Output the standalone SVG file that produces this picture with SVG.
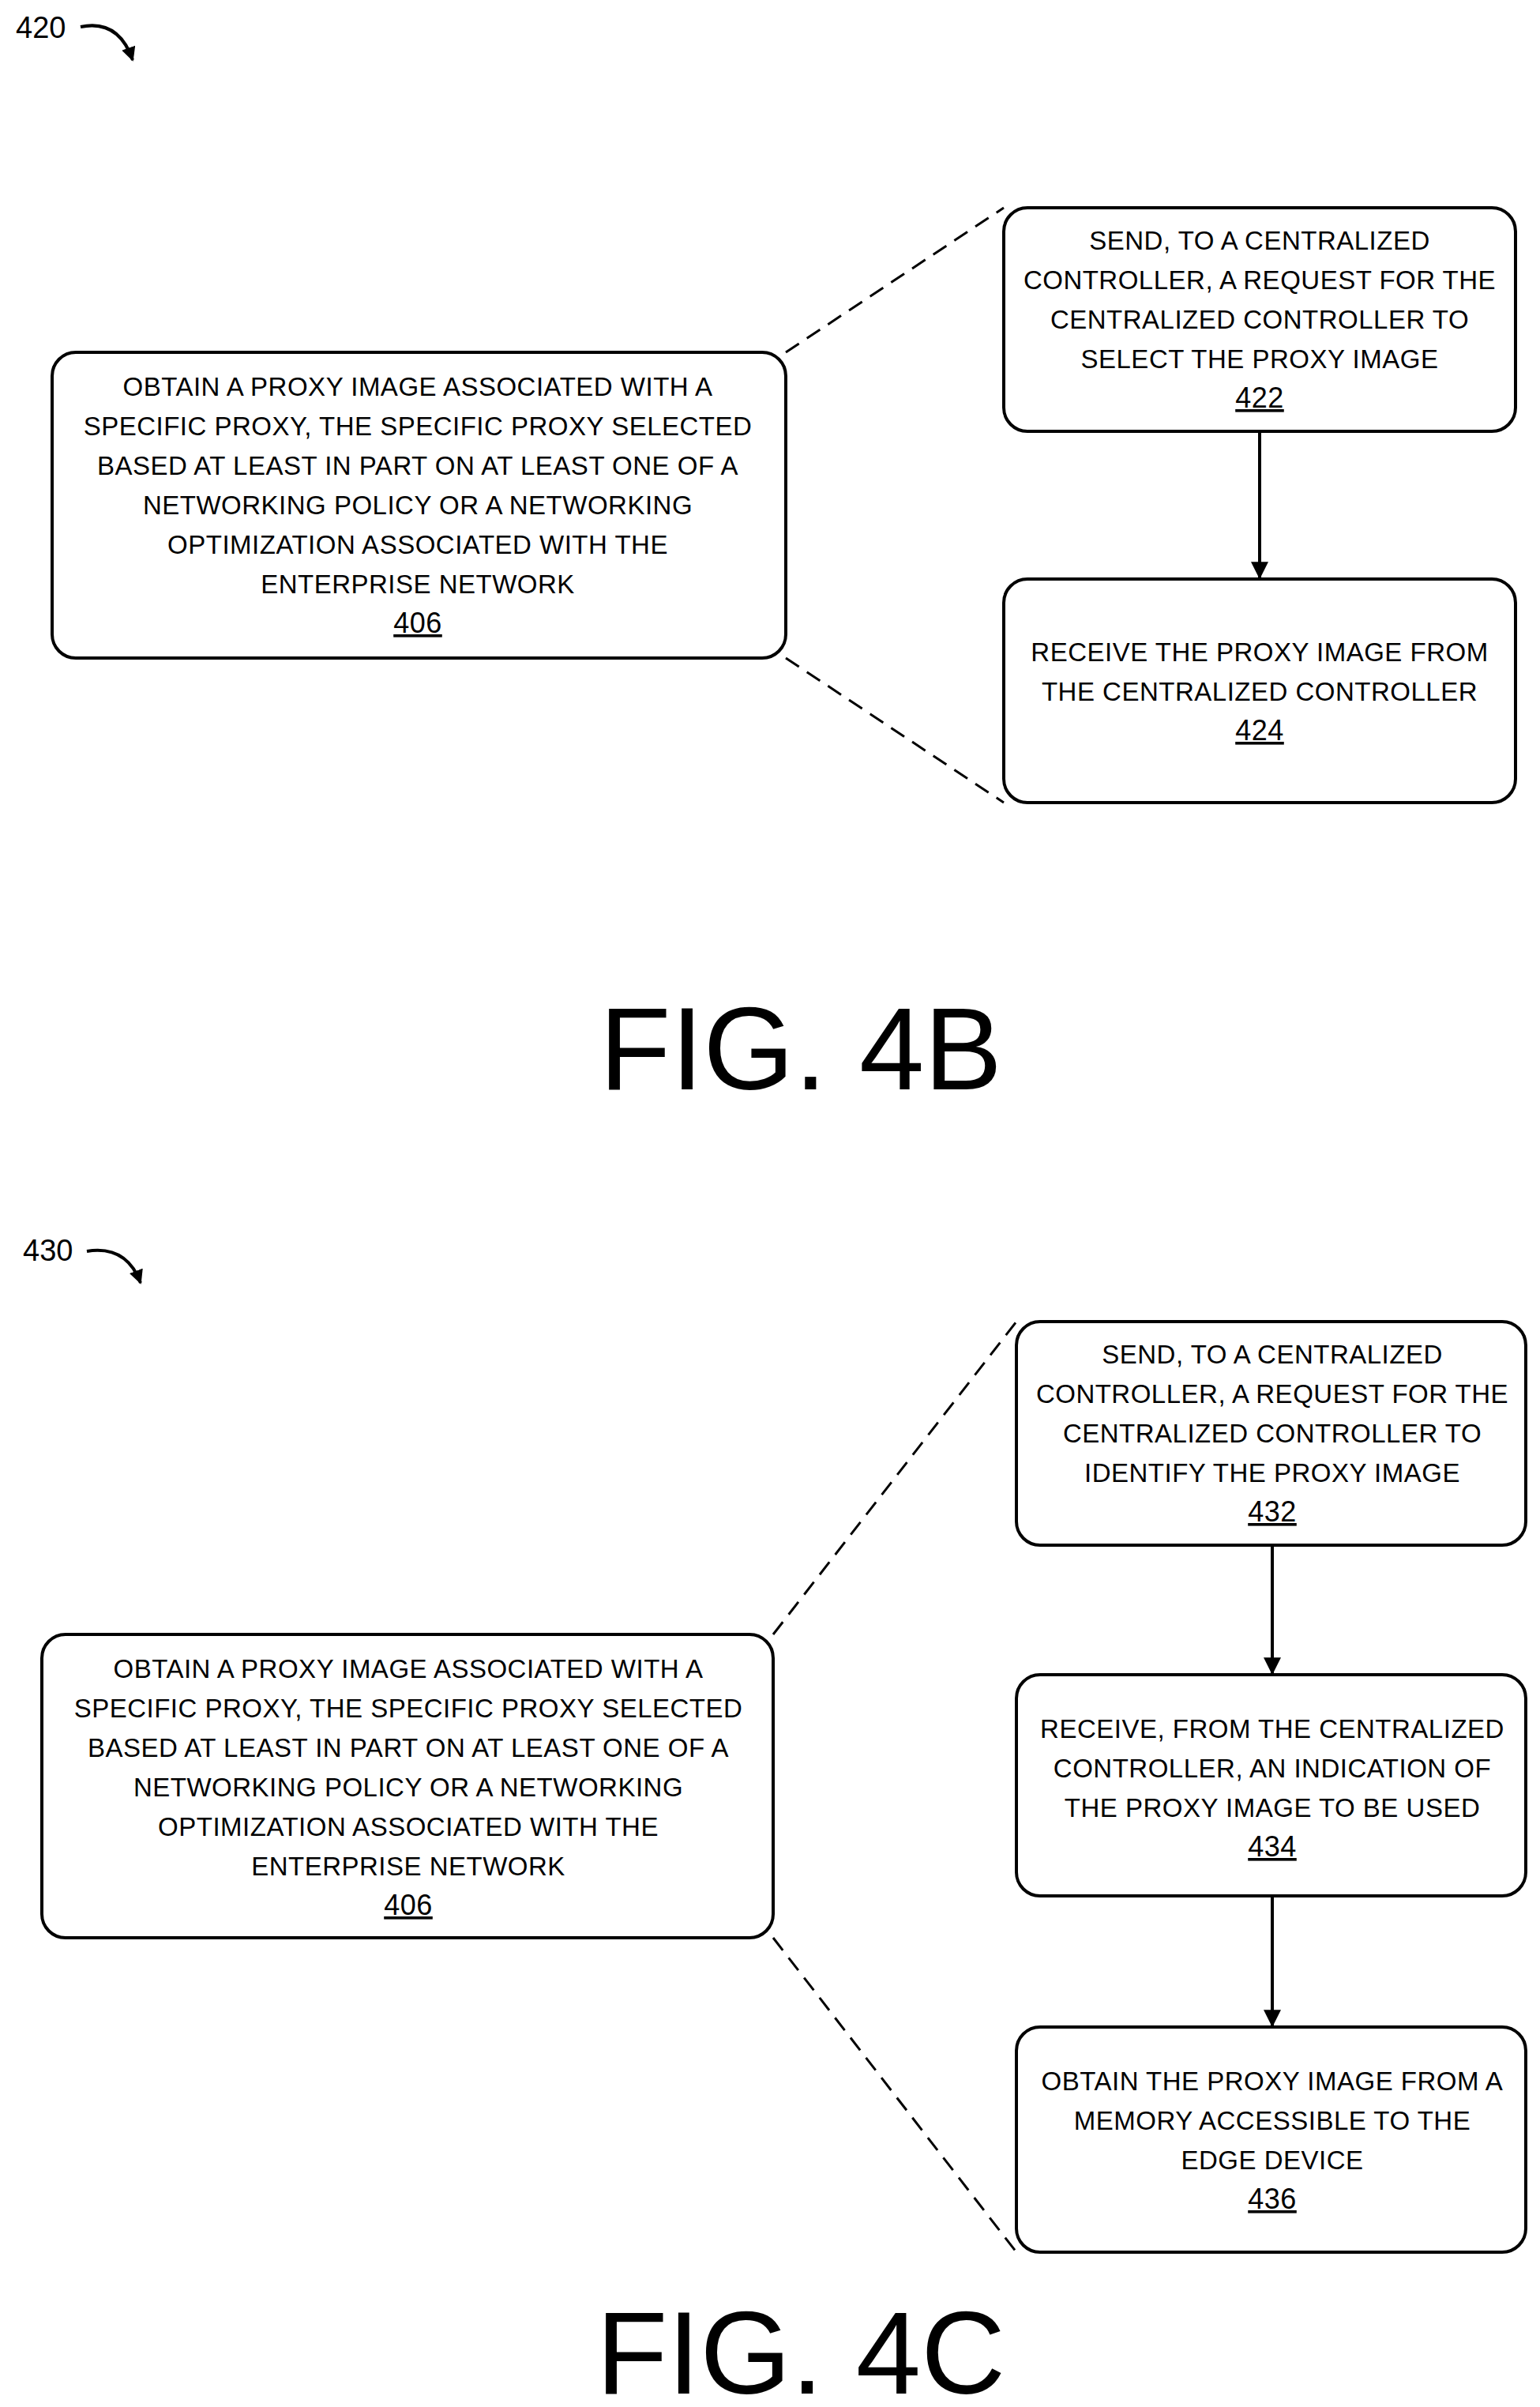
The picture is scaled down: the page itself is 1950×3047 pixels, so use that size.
<svg xmlns="http://www.w3.org/2000/svg" width="1950" height="3047" viewBox="0 0 1950 3047">
<style>
.b{fill:#fff;stroke:#000;stroke-width:4}
.t{font-family:"Liberation Sans",Arial,sans-serif;font-size:33px;text-anchor:middle;letter-spacing:0.5px}
.u{text-decoration:underline;font-size:36px}
.d{stroke:#000;stroke-width:3;stroke-dasharray:20,12;fill:none}
.a{stroke:#000;stroke-width:4;fill:none}
.f{font-family:"Liberation Sans",Arial,sans-serif;font-size:148px;text-anchor:middle}
.l{font-family:"Liberation Sans",Arial,sans-serif;font-size:38px}
</style>
<defs>
<marker id="h" viewBox="0 0 10 10" refX="9" refY="5" markerWidth="22" markerHeight="24" orient="auto" markerUnits="userSpaceOnUse"><path d="M0,0L10,5L0,10z"/></marker>
<marker id="s" viewBox="0 0 10 10" refX="9" refY="5" markerWidth="18" markerHeight="18" orient="auto" markerUnits="userSpaceOnUse"><path d="M0,0L10,5L0,10z"/></marker></defs>
<text class="l" x="20" y="48">420</text>
<text class="l" x="29" y="1596">430</text>
<g id="connectors">
<path class="a" d="M102,34 Q150,24 168,76" marker-end="url(#s)"/>
<path class="a" d="M110,1584 Q160,1576 178,1624" marker-end="url(#s)"/>
<line class="d" x1="995" y1="446" x2="1271" y2="263"/>
<line class="d" x1="995" y1="833" x2="1271" y2="1016"/>
<line class="d" x1="979" y1="2069" x2="1287" y2="1673"/>
<line class="d" x1="979" y1="2453" x2="1287" y2="2851"/>
<line class="a" x1="1595" y1="546" x2="1595" y2="731" marker-end="url(#h)"/>
<line class="a" x1="1611" y1="1956" x2="1611" y2="2118" marker-end="url(#h)"/>
<line class="a" x1="1611" y1="2400" x2="1611" y2="2564" marker-end="url(#h)"/>
</g>
<g id="n406b"><rect class="b" x="66" y="446" width="929" height="387" rx="30"/>
<text class="t" x="529" y="501">OBTAIN A PROXY IMAGE ASSOCIATED WITH A</text>
<text class="t" x="529" y="551">SPECIFIC PROXY, THE SPECIFIC PROXY SELECTED</text>
<text class="t" x="529" y="601">BASED AT LEAST IN PART ON AT LEAST ONE OF A</text>
<text class="t" x="529" y="651">NETWORKING POLICY OR A NETWORKING</text>
<text class="t" x="529" y="701">OPTIMIZATION ASSOCIATED WITH THE</text>
<text class="t" x="529" y="751">ENTERPRISE NETWORK</text>
<text class="t u" x="529" y="801">406</text></g>
<g id="n422"><rect class="b" x="1271" y="263" width="648" height="283" rx="30"/>
<text class="t" x="1595" y="316">SEND, TO A CENTRALIZED</text>
<text class="t" x="1595" y="366">CONTROLLER, A REQUEST FOR THE</text>
<text class="t" x="1595" y="416">CENTRALIZED CONTROLLER TO</text>
<text class="t" x="1595" y="466">SELECT THE PROXY IMAGE</text>
<text class="t u" x="1595" y="516">422</text></g>
<g id="n424"><rect class="b" x="1271" y="733" width="648" height="283" rx="30"/>
<text class="t" x="1595" y="837">RECEIVE THE PROXY IMAGE FROM</text>
<text class="t" x="1595" y="887">THE CENTRALIZED CONTROLLER</text>
<text class="t u" x="1595" y="937">424</text></g>
<text class="f" x="1014" y="1379">FIG. 4B</text>
<g id="n406c"><rect class="b" x="53" y="2069" width="926" height="384" rx="30"/>
<text class="t" x="517" y="2124">OBTAIN A PROXY IMAGE ASSOCIATED WITH A</text>
<text class="t" x="517" y="2174">SPECIFIC PROXY, THE SPECIFIC PROXY SELECTED</text>
<text class="t" x="517" y="2224">BASED AT LEAST IN PART ON AT LEAST ONE OF A</text>
<text class="t" x="517" y="2274">NETWORKING POLICY OR A NETWORKING</text>
<text class="t" x="517" y="2324">OPTIMIZATION ASSOCIATED WITH THE</text>
<text class="t" x="517" y="2374">ENTERPRISE NETWORK</text>
<text class="t u" x="517" y="2424">406</text></g>
<g id="n432"><rect class="b" x="1287" y="1673" width="645" height="283" rx="30"/>
<text class="t" x="1611" y="1726">SEND, TO A CENTRALIZED</text>
<text class="t" x="1611" y="1776">CONTROLLER, A REQUEST FOR THE</text>
<text class="t" x="1611" y="1826">CENTRALIZED CONTROLLER TO</text>
<text class="t" x="1611" y="1876">IDENTIFY THE PROXY IMAGE</text>
<text class="t u" x="1611" y="1926">432</text></g>
<g id="n434"><rect class="b" x="1287" y="2120" width="645" height="280" rx="30"/>
<text class="t" x="1611" y="2200">RECEIVE, FROM THE CENTRALIZED</text>
<text class="t" x="1611" y="2250">CONTROLLER, AN INDICATION OF</text>
<text class="t" x="1611" y="2300">THE PROXY IMAGE TO BE USED</text>
<text class="t u" x="1611" y="2350">434</text></g>
<g id="n436"><rect class="b" x="1287" y="2566" width="645" height="285" rx="30"/>
<text class="t" x="1611" y="2646">OBTAIN THE PROXY IMAGE FROM A</text>
<text class="t" x="1611" y="2696">MEMORY ACCESSIBLE TO THE</text>
<text class="t" x="1611" y="2746">EDGE DEVICE</text>
<text class="t u" x="1611" y="2796">436</text></g>
<text class="f" x="1014" y="3030">FIG. 4C</text>
</svg>
